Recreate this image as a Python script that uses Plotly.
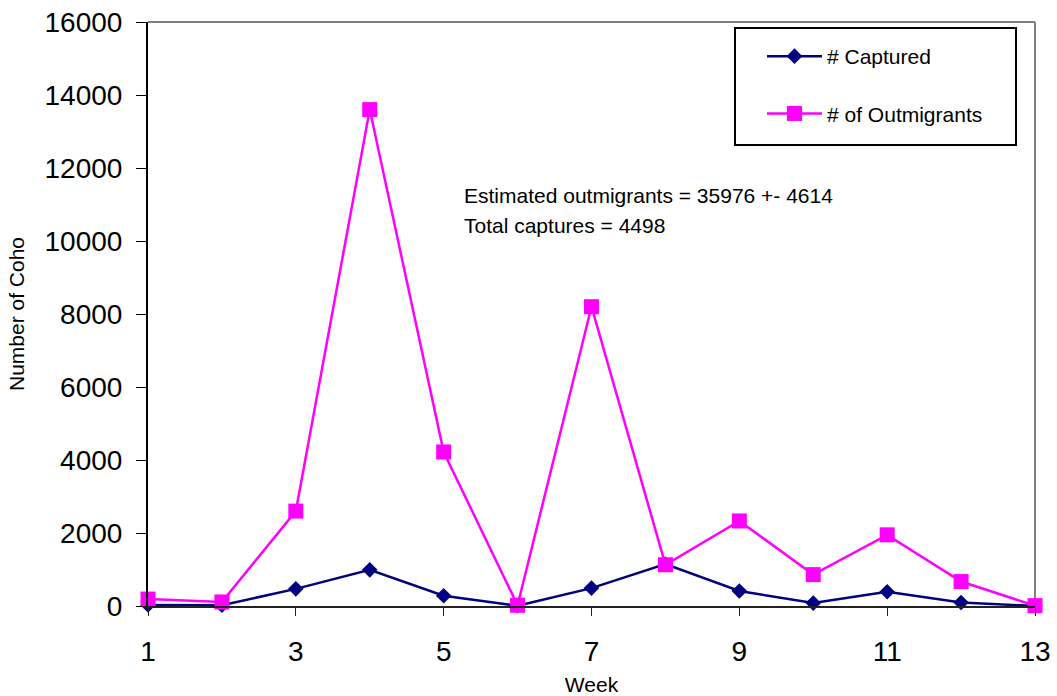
import plotly.graph_objects as go

weeks = [1, 2, 3, 4, 5, 6, 7, 8, 9, 10, 11, 12, 13]
captured = [30, 20, 470, 990, 280, 5, 490, 1150, 410, 80, 390, 95, 0]
outmigrants = [190, 110, 2600, 13600, 4220, 20, 8200, 1130, 2330, 860, 1950, 670, 10]

y_ticks = [0, 2000, 4000, 6000, 8000, 10000, 12000, 14000, 16000]
x_ticks = [1, 3, 5, 7, 9, 11, 13]

FONT = "Liberation Sans, Arial, sans-serif"

fig = go.Figure()
fig.add_trace(go.Scatter(
    x=weeks, y=captured, name="# Captured", mode="lines+markers",
    line=dict(color="#000080", width=2.5),
    marker=dict(symbol="diamond", size=12, color="#000080"),
    cliponaxis=False, legendgroup="a"))
fig.add_trace(go.Scatter(
    x=weeks, y=outmigrants, name="# of Outmigrants", mode="lines+markers",
    line=dict(color="#FF00FF", width=2.5),
    marker=dict(symbol="square", size=15, color="#FF00FF"),
    cliponaxis=False, legendgroup="b"))

fig.update_layout(
    width=1057, height=696,
    margin=dict(l=148, r=22, t=22, b=90),
    paper_bgcolor="white", plot_bgcolor="white",
    font=dict(family=FONT, color="black"),
    showlegend=True,
    legend=dict(x=(762 - 148) / 887, y=(606 - 36) / 584, xanchor="left", yanchor="top",
                bgcolor="rgba(0,0,0,0)", borderwidth=0,
                font=dict(size=21, family=FONT), tracegroupgap=27,
                itemwidth=55),
    xaxis=dict(range=[1, 13], tickvals=x_ticks, ticktext=[str(v) for v in x_ticks],
               automargin=False,
               showgrid=False, zeroline=False, showline=True, linecolor="#222",
               linewidth=2, ticks="outside", ticklen=8, tickcolor="#222",
               ticklabelstandoff=11,
               tickfont=dict(size=28), title=dict(text="Week", font=dict(size=21), standoff=12)),
    yaxis=dict(range=[0, 16000], tickvals=y_ticks, ticktext=[str(v) for v in y_ticks],
               automargin=False,
               showgrid=False, zeroline=False, showline=True, linecolor="black",
               linewidth=2, ticks="outside", ticklen=10, tickcolor="black",
               ticklabelstandoff=8,
               tickfont=dict(size=28), title=dict(text="Number of Coho", font=dict(size=21), standoff=14)),
    shapes=[
        dict(type="line", xref="paper", yref="paper", x0=0, x1=1, y0=1, y1=1,
             line=dict(color="#808080", width=2), layer="below"),
        dict(type="line", xref="paper", yref="paper", x0=1, x1=1, y0=0, y1=1,
             line=dict(color="#808080", width=2), layer="below"),
        dict(type="rect", xref="paper", yref="paper",
             x0=(735 - 148) / 887, x1=(1016 - 148) / 887,
             y0=(606 - 145) / 584, y1=(606 - 28) / 584,
             line=dict(color="black", width=2), fillcolor="rgba(0,0,0,0)"),
    ],
    annotations=[
        dict(text="Estimated outmigrants = 35976 +- 4614", x=(462 - 148) / 887, y=(606 - 195) / 584,
             xref="paper", yref="paper", xanchor="left", yanchor="middle", showarrow=False,
             font=dict(size=21)),
        dict(text="Total captures = 4498", x=(462 - 148) / 887, y=(606 - 225) / 584,
             xref="paper", yref="paper", xanchor="left", yanchor="middle", showarrow=False,
             font=dict(size=21)),
    ],
)

fig.write_html("out.html")
